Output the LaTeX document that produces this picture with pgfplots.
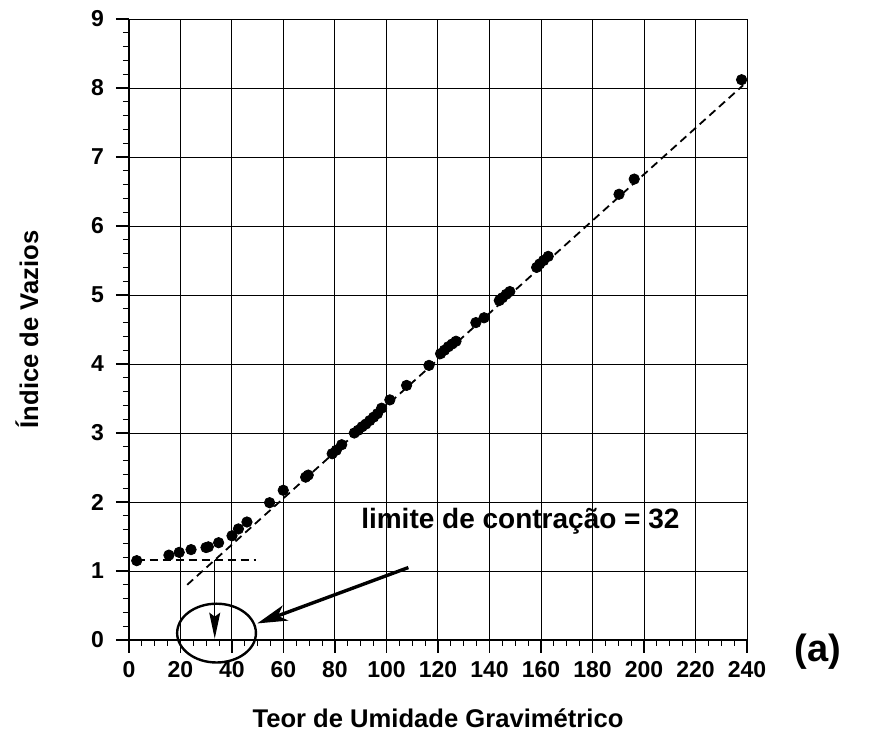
\documentclass[border=0pt]{standalone}
\usepackage{fontspec}
\setmainfont{Liberation Sans}
\usepackage{pgfplots}
\pgfplotsset{compat=1.18}
\usetikzlibrary{arrows.meta}
\begin{document}
\begin{tikzpicture}
\path[use as bounding box] (-64.5pt,-49pt) rectangle (382.5pt,320pt);
\begin{axis}[
  at={(0,0)}, anchor=south west,
  scale only axis, width=309pt, height=310.5pt,
  xmin=0, xmax=240, ymin=0, ymax=9,
  axis x line=bottom, axis y line=left,
  axis line style={-, line width=0.6pt},
  xtick={0,20,...,240}, ytick={0,1,...,9},
  minor x tick num=3, minor y tick num=4,
  tick align=outside,
  major tick length=6.5pt, minor tick length=3pt,
  tick style={black, line width=0.6pt},
  grid=major,
  major grid style={black, line width=0.5pt},
  /pgf/number format/assume math mode=true,
  ticklabel style={font=\bfseries\fontsize{11.5}{13}\selectfont},
  xticklabel style={yshift=-0.5pt},
  yticklabel style={xshift=-2.5pt},
  xlabel={Teor de Umidade Gravimétrico},
  ylabel={Índice de Vazios},
  label style={font=\bfseries\fontsize{12.8}{15}\selectfont},
  xlabel style={at={(axis description cs:0.5,0)}, anchor=center, yshift=-39pt},
  ylabel style={at={(axis description cs:0,0.5)}, anchor=center, yshift=51pt},
  clip=false,
]
\addplot[black, dashed, line width=0.9pt, dash pattern=on 4pt off 2.5pt] coordinates {(22.6,0.80) (238.5,8.04)};
\addplot[black, dashed, line width=0.9pt, dash pattern=on 4pt off 2.5pt] coordinates {(3,1.155) (49.3,1.155)};
\addplot[only marks, mark=*, mark size=2.6pt, black] coordinates {
(3.0,1.15) (15.5,1.23) (19.5,1.27) (24.1,1.31) (29.9,1.34) (30.8,1.35)
(34.8,1.41) (40.0,1.51) (42.5,1.61) (45.8,1.71) (54.6,1.99) (59.9,2.17)
(68.6,2.36) (69.6,2.39) (78.9,2.70) (80.5,2.75) (82.6,2.83) (87.5,3.00)
(89.0,3.04) (90.5,3.09) (92.0,3.13) (93.5,3.18) (95.0,3.23) (96.5,3.28)
(98.1,3.36) (101.3,3.48) (107.8,3.69) (116.5,3.98) (121.0,4.15) (122.5,4.20)
(124.0,4.25) (125.5,4.29) (127.0,4.33) (134.7,4.60) (137.9,4.67) (143.8,4.92)
(145.0,4.96) (146.5,5.01) (147.9,5.05) (158.3,5.40) (159.5,5.45) (161.0,5.50)
(162.8,5.56) (190.3,6.46) (196.2,6.68) (237.9,8.12)
};
\draw[black, line width=0.6pt, -{Stealth[length=13pt,width=5.5pt,inset=2pt]}] (axis cs:33.3,1.155) -- (axis cs:33.3,0.02);
\draw[black, line width=1.2pt] (axis cs:34,0.1) ellipse [x radius=19.7pt, y radius=14.7pt];
\draw[black, line width=1.7pt, -{Stealth[length=15pt,width=8pt,inset=4pt]}] (axis cs:108.5,1.05) -- (axis cs:49.8,0.24);
\node[font=\bfseries\fontsize{14}{16}\selectfont] at (axis cs:152,1.72) {limite de contração = 32};
\node[font=\bfseries\fontsize{19}{21}\selectfont] at (axis cs:267.5,-0.17) {(a)};
\end{axis}
\end{tikzpicture}
\end{document}
